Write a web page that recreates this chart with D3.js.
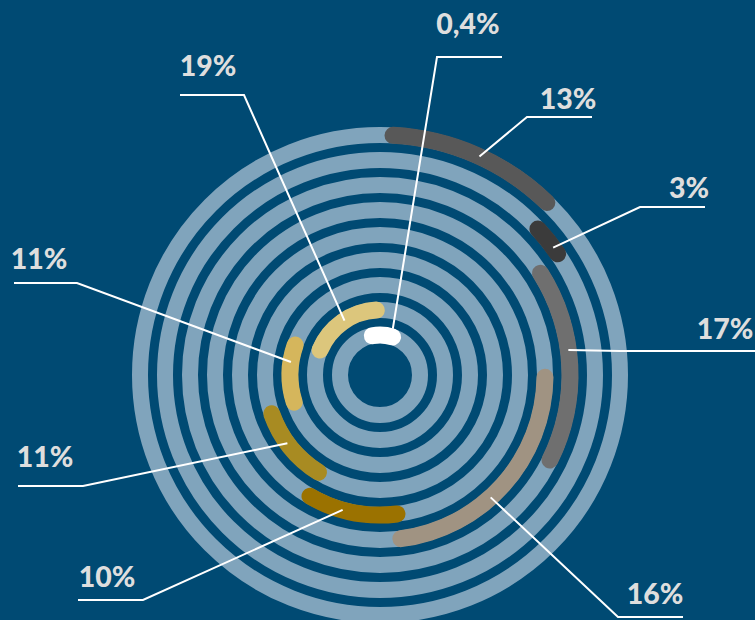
<!DOCTYPE html>
<html>
<head>
<meta charset="utf-8">
<script src="https://cdn.jsdelivr.net/npm/d3@7.9.0/dist/d3.min.js"></script>
<style>
  html, body { margin: 0; padding: 0; background: #004a73; }
  svg { display: block; }
  .label { font-family: Lato, "Open Sans", sans-serif; font-weight: 900; font-size: 28.5px; fill: #dedede; }
</style>
</head>
<body>
<svg id="chart" width="755" height="620"></svg>
<script>
// values shown in the labels, one slice per ring
const labels = ["0,4%", "13%", "3%", "17%", "16%", "10%", "11%", "11%", "19%"];
const values = [0.4, 13, 3, 17, 16, 10, 11, 11, 19];
const ringOf = [0, 8, 7, 6, 5, 4, 3, 2, 1];
// where each arc starts / ends, in % of the full turn
const arcStart = [-6.5, 0.3, 12.5, 15.3, 24.4, 47.1, 57.8, 68.6, 79.2];
const arcEnd = [8.5, 12.8, 16.1, 33.1, 48.8, 59.3, 70.7, 81.9, 101.2];
// where the leader line touches the arc, in % of the turn
const anchorAt = [4.3, 6.8, 14.9, 22.9, 38.3, 54.3, 64.9, 77.3, -9.2];
const colors = ["#ffffff", "#585858", "#3b3b3b", "#6f6f6f", "#a09382",
                "#9b7200", "#a88b22", "#d5b65c", "#dcc67c"];
const ringCount = 9;

// label layout: knee of leader, end of horizontal, text centre x and baseline
const layout = [
  { knee: [437, 57], end: [502, 57], tx: 468, ty: 34, dr: 8 },
  { knee: [527, 117], end: [592, 117], tx: 568, ty: 109, dr: 0 },
  { knee: [640, 207], end: [705, 207], tx: 689, ty: 198, dr: 0 },
  { knee: [620, 351], end: [755, 351], tx: 725, ty: 339, dr: 0 },
  { knee: [618, 617], end: [683, 617], tx: 655, ty: 604, dr: 0 },
  { knee: [143, 600], end: [78, 600], tx: 107, ty: 587, dr: 0 },
  { knee: [83, 486], end: [18, 486], tx: 45, ty: 467, dr: 0 },
  { knee: [77, 283], end: [14, 283], tx: 39, ty: 269, dr: 0 },
  { knee: [244, 95], end: [180, 95], tx: 208, ty: 76, dr: 0 }
];

const svg = d3.select("#chart");
const cx = 380, cy = 375;
const band = 16;
const arcBand = 17;

svg.append("rect").attr("width", 755).attr("height", 620).attr("fill", "#004a73");

const radius = d3.scaleLinear().domain([0, ringCount - 1]).range([40, 240]);
const angle = d3.scaleLinear().domain([0, 100]).range([0, 2 * Math.PI]);

const g = svg.append("g").attr("transform", `translate(${cx},${cy})`);

// the light tracks
g.selectAll("circle.track")
  .data(d3.range(ringCount))
  .join("circle")
  .attr("class", "track")
  .attr("r", d => radius(d))
  .attr("fill", "none")
  .attr("stroke", "#80a4bc")
  .attr("stroke-width", band);

// coloured arcs with rounded ends
const arcGen = d3.arc()
  .innerRadius(d => radius(d.ring) - arcBand / 2)
  .outerRadius(d => radius(d.ring) + arcBand / 2)
  .cornerRadius(arcBand / 2);

const slices = values.map((v, i) => ({
  value: v, label: labels[i], ring: ringOf[i],
  startAngle: angle(arcStart[i]), endAngle: angle(arcEnd[i]),
  color: colors[i], anchor: anchorAt[i], lay: layout[i]
}));

g.selectAll("path.slice")
  .data(slices)
  .join("path")
  .attr("class", "slice")
  .attr("d", arcGen)
  .attr("fill", d => d.color);

// leader lines + labels
slices.forEach(d => {
  const a = angle(d.anchor);
  const r = radius(d.ring) + d.lay.dr;
  const ax = cx + r * Math.sin(a), ay = cy - r * Math.cos(a);
  svg.append("polyline")
    .attr("points", [[ax, ay], d.lay.knee, d.lay.end].map(p => p.join(",")).join(" "))
    .attr("fill", "none")
    .attr("stroke", "#ffffff")
    .attr("stroke-width", 2);
  svg.append("text")
    .attr("class", "label")
    .attr("x", d.lay.tx)
    .attr("y", d.lay.ty)
    .attr("text-anchor", "middle")
    .text(d.label);
});
</script>
</body>
</html>
